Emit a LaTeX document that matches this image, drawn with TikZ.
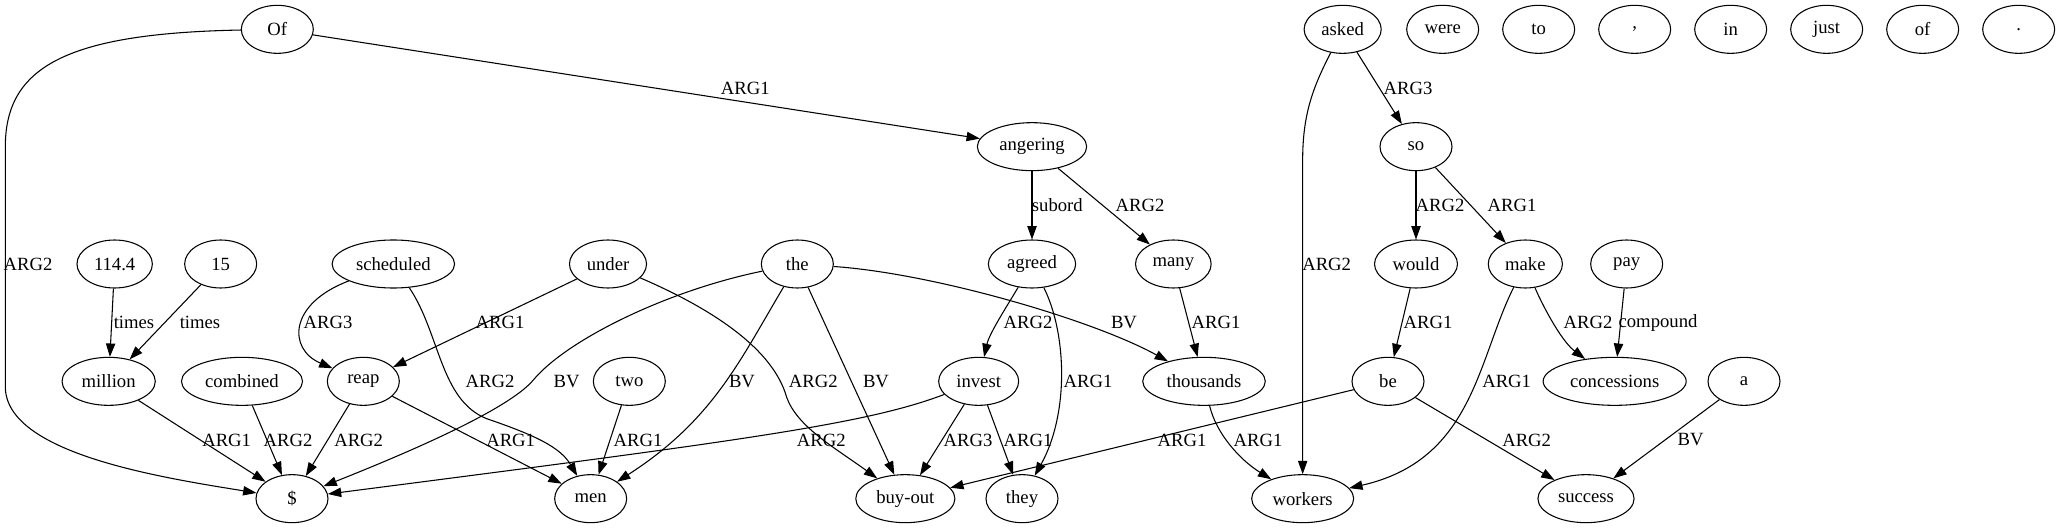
\documentclass[tikz,border=0pt]{standalone}
\usepackage{fontspec}
\setmainfont{Liberation Serif}
\usetikzlibrary{arrows.meta,shapes.geometric}

\begin{document}
\begin{tikzpicture}[x=1pt,y=-1pt,
    word/.style={draw, ellipse, line width=0.8pt, minimum width=54pt, minimum height=36pt, inner xsep=4.5pt, font=\fontsize{14}{16}\selectfont},
    lab/.style={inner sep=1pt, font=\fontsize{14}{16}\selectfont},
    arc/.style={-{Triangle[length=10pt,width=7pt]}, line width=0.8pt}]
        \useasboundingbox (0,0) rectangle (1545.75,396);

        % Words, rank 1
        \node[word] (wOf) at (208,22) {Of};
        \node[word] (wasked) at (1007,22) {asked};
        \node[word] (wwere) at (1082,22) {were};
        \node[word] (wto) at (1154,22) {to};
        \node[word] (wcomma) at (1226,22) {,};
        \node[word] (win) at (1298,22) {in};
        \node[word] (wjust) at (1370,22) {just};
        \node[word] (wofl) at (1442,22) {of};
        \node[word] (wdot) at (1514,22) {.};
        % Words, rank 2
        \node[word] (wangering) at (774,110) {angering};
        \node[word] (wso) at (1062,110) {so};
        % Words, rank 3
        \node[word] (w114) at (86,198) {114.4};
        \node[word] (w15) at (165.5,198) {15};
        \node[word] (wscheduled) at (295,198) {scheduled};
        \node[word] (wunder) at (456,198) {under};
        \node[word] (wthe) at (598,198) {the};
        \node[word] (wagreed) at (774,198) {agreed};
        \node[word] (wmany) at (880,198) {many};
        \node[word] (wwould) at (1062,198) {would};
        \node[word] (wmake) at (1144,198) {make};
        \node[word] (wpay) at (1220,198) {pay};
        % Words, rank 4
        \node[word] (wmillion) at (81.5,286) {million};
        \node[word] (wcombined) at (181.5,286) {combined};
        \node[word] (wreap) at (272.5,286) {reap};
        \node[word] (wtwo) at (472,286) {two};
        \node[word] (winvest) at (734,286) {invest};
        \node[word] (wthousands) at (903,286) {thousands};
        \node[word] (wbe) at (1041,286) {be};
        \node[word] (wconcessions) at (1211,286) {concessions};
        \node[word] (wa) at (1308,286) {a};
        % Words, rank 5
        \node[word] (wdollar) at (219,374) {\$};
        \node[word] (wmen) at (443,374) {men};
        \node[word] (wbuyout) at (679,374) {buy-out};
        \node[word] (wthey) at (766.5,374) {they};
        \node[word] (wworkers) at (977,374) {workers};
        \node[word] (wsuccess) at (1189.5,374) {success};

        % Arcs from Of, angering, asked, so
        \draw[arc] (wOf) .. controls (50,25) and (4,50) .. (4,110) -- (4,290) .. controls (4,340) and (120,358) .. (wdollar) node[lab] (lOfdollar) at (21,198) {ARG2};
        \draw[arc] (wOf) -- (wangering) node[lab] (lOfangering) at (559,66) {ARG1};
        \draw[arc] (wangering) -- (wagreed) node[lab] (langagreed) at (793,154) {subord};
        \draw[arc] (wangering) -- (wmany) node[lab] (langmany) at (855,154) {ARG2};
        \draw[arc] (wasked) .. controls (985,65) and (977,85) .. (977,120) -- (wworkers) node[lab] (laskworkers) at (995,198) {ARG2};
        \draw[arc] (wasked) -- (wso) node[lab] (laskso) at (1056,66) {ARG3};
        \draw[arc] (wso) -- (wwould) node[lab] (lsowould) at (1080,154) {ARG2};
        \draw[arc] (wso) -- (wmake) node[lab] (lsomake) at (1134,154) {ARG1};

        % Arcs from rank 3
        \draw[arc] (w114) -- (wmillion) node[lab] (l114million) at (100.5,242) {times};
        \draw[arc] (w15) -- (wmillion) node[lab] (l15million) at (150,242) {times};
        \draw[arc] (wscheduled) .. controls (216,228) and (216,262) .. (wreap) node[lab] (lschreap) at (246,242) {ARG3};
        \draw[arc] (wscheduled) .. controls (330,250) and (330,300) .. (365,314) .. controls (400,326) and (420,335) .. (wmen) node[lab] (lschmen) at (367.5,286) {ARG2};
        \draw[arc] (wunder) -- (wreap) node[lab] (lundreap) at (375,242) {ARG1};
        \draw[arc] (wunder) .. controls (535,232) and (580,262) .. (590,298) .. controls (598,320) and (625,335) .. (wbuyout) node[lab] (lundbuyout) at (610,286) {ARG2};
        \draw[arc] (wthe) .. controls (500,218) and (425,255) .. (400,285) .. controls (385,303) and (330,330) .. (wdollar) node[lab] (lthedollar) at (425,286) {BV};
        \draw[arc] (wthe) .. controls (555,270) and (535,315) .. (wmen) node[lab] (lthemen) at (556.5,286) {BV};
        \draw[arc] (wthe) -- (wbuyout) node[lab] (lthebuyout) at (657,286) {BV};
        \draw[arc] (wthe) .. controls (700,205) and (820,240) .. (wthousands) node[lab] (lthethousands) at (843,242) {BV};
        \draw[arc] (wagreed) .. controls (755,230) and (742,250) .. (winvest) node[lab] (lagrinvest) at (771,242) {ARG2};
        \draw[arc] (wagreed) .. controls (800,250) and (802,310) .. (wthey) node[lab] (lagrthey) at (816,286) {ARG1};
        \draw[arc] (wmany) -- (wthousands) node[lab] (lmanythousands) at (912,242) {ARG1};
        \draw[arc] (wwould) -- (wbe) node[lab] (lwouldbe) at (1071,242) {ARG1};
        \draw[arc] (wmake) .. controls (1108,270) and (1105,345) .. (wworkers) node[lab] (lmakeworkers) at (1130,286) {ARG1};
        \draw[arc] (wmake) .. controls (1155,225) and (1170,255) .. (wconcessions) node[lab] (lmakeconc) at (1191,242) {ARG2};
        \draw[arc] (wpay) -- (wconcessions) node[lab] (lpayconc) at (1243.5,242) {compound};

        % Arcs from rank 4
        \draw[arc] (wmillion) -- (wdollar) node[lab] (lmilliondollar) at (170,330) {ARG1};
        \draw[arc] (wcombined) -- (wdollar) node[lab] (lcombdollar) at (216,330) {ARG2};
        \draw[arc] (wreap) -- (wdollar) node[lab] (lreapdollar) at (269,330) {ARG2};
        \draw[arc] (wreap) -- (wmen) node[lab] (lreapmen) at (383,330) {ARG1};
        \draw[arc] (wtwo) -- (wmen) node[lab] (ltwomen) at (478.5,330) {ARG1};
        \draw[arc] (winvest) .. controls (650,318) and (560,330) .. (wdollar) node[lab] (linvdollar) at (616,330) {ARG2};
        \draw[arc] (winvest) -- (wbuyout) node[lab] (linvbuyout) at (726,330) {ARG3};
        \draw[arc] (winvest) -- (wthey) node[lab] (linvthey) at (771,330) {ARG1};
        \draw[arc] (wthousands) .. controls (912,325) and (930,345) .. (wworkers) node[lab] (lthouworkers) at (943.5,330) {ARG1};
        \draw[arc] (wbe) -- (wbuyout) node[lab] (lbebuyout) at (886.5,330) {ARG1};
        \draw[arc] (wbe) -- (wsuccess) node[lab] (lbesuccess) at (1145,330) {ARG2};
        \draw[arc] (wa) -- (wsuccess) node[lab] (lasuccess) at (1268,330) {BV};
\end{tikzpicture}
\end{document}
